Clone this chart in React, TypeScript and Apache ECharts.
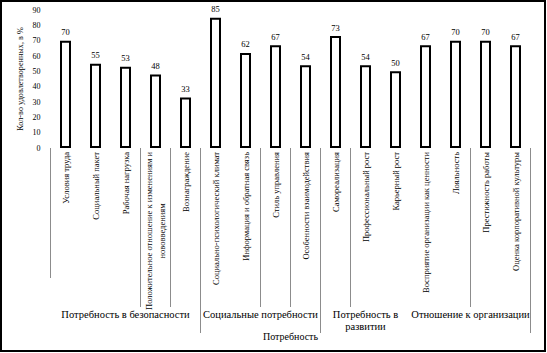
import React, { useEffect, useRef } from "react";
import * as echarts from "echarts";

const categories: string[] = [
  "Условия труда",
  "Социальный пакет",
  "Рабочая нагрузка",
  "Положительное отношение к изменениям и\nнововведениям",
  "Вознаграждение",
  "Социально-психологический климат",
  "Информация и обратная связь",
  "Стиль управления",
  "Особенности взаимодействия",
  "Самореализация",
  "Профессиональный рост",
  "Карьерный рост",
  "Восприятие организации как ценности",
  "Лояльность",
  "Престижность работы",
  "Оценка корпоративной культуры",
];
const values: number[] = [70, 55, 53, 48, 33, 85, 62, 67, 54, 73, 54, 50, 67, 70, 70, 67];
const groupNames: string[] = [
  "Потребность в безопасности",
  "Социальные потребности",
  "Потребность в\nразвитии",
  "Отношение к организации",
];
const groupSizes: number[] = [5, 4, 3, 4];
const yMin = 0;
const yMax = 90;
const yStep = 10;
const yAxisName = "Кол-во удовлетворенных, в %";
const xAxisName = "Потребность";
// category boundaries (left edge index) where separator ticks appear
const sepMid: number[] = [3, 4, 7, 8, 10, 14];
const sepLong: number[] = [5, 9];
const sepShort: number[] = [6];

const FONT = "'Liberation Serif', 'Times New Roman', serif";

export default function App() {
  const ref = useRef<HTMLDivElement>(null);
  useEffect(() => {
    if (!ref.current) return;
    const chart = echarts.init(ref.current, undefined, { renderer: "svg" });

    const groupCenters: { pos: number; name: string }[] = [];
    let acc = 0;
    groupSizes.forEach((s, i) => {
      groupCenters.push({ pos: acc + s / 2, name: groupNames[i] });
      acc += s;
    });

    const tickAxis = (list: number[], length: number) => ({
      type: "category",
      data: categories,
      position: "bottom",
      gridIndex: 0,
      boundaryGap: true,
      axisLine: { show: false },
      axisLabel: { show: false },
      splitLine: { show: false },
      axisTick: {
        show: true,
        length,
        interval: (idx: number) => list.indexOf(idx) >= 0,
        lineStyle: { color: "#8c8c8c", width: 1 },
      },
    });

    chart.setOption({
      animation: false,
      backgroundColor: "#fff",
      grid: {
        left: 50.5,
        right: 16.5,
        top: 10,
        bottom: 205,
        containLabel: false,
        outerBoundsMode: "none",
      },
      xAxis: [
        {
          type: "category",
          data: categories,
          position: "bottom",
          boundaryGap: true,
          axisLine: { show: false },
          axisTick: {
            show: true,
            length: 159,
            interval: (idx: number) => sepMid.indexOf(idx) >= 0,
            lineStyle: { color: "#8c8c8c", width: 1 },
          },
          axisLabel: {
            interval: 0,
            rotate: 90,
            margin: 4,
            fontFamily: FONT,
            fontSize: 8.5,
            color: "#000",
            formatter: (v: string) =>
              v
                .split("\n")
                .map((l) => `{c|${l}}`)
                .join("\n"),
            rich: {
              c: {
                fontFamily: FONT,
                fontSize: 8.5,
                color: "#000",
                lineHeight: 13,
                align: "center",
              },
            },
          },
        },
        tickAxis(sepLong, 185),
        tickAxis(sepShort, 130),
        {
          type: "value",
          position: "bottom",
          min: 0,
          max: categories.length,
          interval: 0.5,
          axisLine: { show: false },
          axisTick: { show: false },
          splitLine: { show: false },
          name: xAxisName,
          nameLocation: "middle",
          nameGap: 183,
          nameMoveOverlap: false,
          nameTextStyle: {
            fontFamily: FONT,
            fontSize: 10,
            color: "#000",
            verticalAlign: "top",
          },
          axisLabel: {
            margin: 160,
            fontFamily: FONT,
            fontSize: 10.5,
            lineHeight: 12,
            color: "#000",
            align: "center",
            verticalAlign: "top",
            showMinLabel: true,
            showMaxLabel: true,
            formatter: (v: number) => {
              const g = groupCenters.find((c) => Math.abs(c.pos - v) < 1e-6);
              return g ? g.name : "";
            },
          },
        },
      ],
      yAxis: {
        type: "value",
        min: yMin,
        max: yMax,
        interval: yStep,
        axisLine: { show: false },
        axisTick: { show: false },
        splitLine: { show: false },
        axisLabel: {
          margin: 10,
          fontFamily: FONT,
          fontSize: 8,
          color: "#000",
        },
        name: yAxisName,
        nameLocation: "middle",
        nameGap: 26,
        nameRotate: 90,
        nameMoveOverlap: false,
        nameTextStyle: {
          fontFamily: FONT,
          fontSize: 8.2,
          color: "#000",
        },
      },
      series: [
        {
          type: "bar",
          xAxisIndex: 0,
          data: values,
          barWidth: 11,
          itemStyle: {
            color: "#fff",
            borderColor: "#000",
            borderWidth: 2,
          },
          label: {
            show: true,
            position: "top",
            distance: 4,
            fontFamily: FONT,
            fontSize: 8.5,
            color: "#000",
          },
        },
      ],
      graphic: [
        {
          type: "rect",
          shape: { x: 1, y: 1, width: 544, height: 350 },
          style: { fill: "none", stroke: "#000", lineWidth: 2 },
          silent: true,
        },
      ],
    });
    return () => chart.dispose();
  }, []);
  return (
    <div
      ref={ref}
      style={{ position: "fixed", left: 0, top: 0, width: 547, height: 353 }}
    />
  );
}
